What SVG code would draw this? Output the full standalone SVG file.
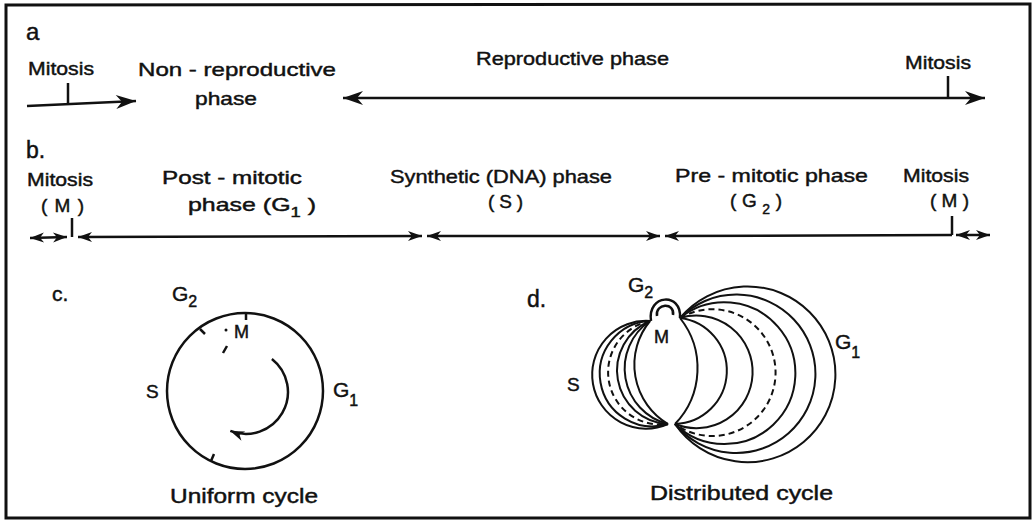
<svg xmlns="http://www.w3.org/2000/svg" width="1036" height="529" viewBox="0 0 1036 529">
<style>
text { font-family: "Liberation Sans", Arial, sans-serif; fill: #111; stroke: #111; stroke-width: 0.45; }
.t { font-size: 19px; }
.s { font-size: 14px; }
.ln { stroke: #111; stroke-width: 2.5; fill: none; }
.arc { stroke: #111; stroke-width: 2; fill: none; }
.dash { stroke-dasharray: 6 4; }
</style>
<defs>
<marker id="big" viewBox="-22 -8 23 16" refX="0" refY="0" markerWidth="23" markerHeight="16" markerUnits="userSpaceOnUse" orient="auto-start-reverse">
<path d="M0,0 L-20,-7 L-14,0 L-20,7 Z" fill="#111"/>
</marker>
<marker id="slim" viewBox="-16 -6 17 12" refX="0" refY="0" markerWidth="17" markerHeight="12" markerUnits="userSpaceOnUse" orient="auto-start-reverse">
<path d="M0,0 L-14,-5 L-10,0 L-14,5 Z" fill="#111"/>
</marker>
</defs>
<rect width="1036" height="529" fill="#fff"/>
<g id="frame"><path d="M6,518 L6,5 L1030,4 L1030,518 Z" fill="none" stroke="#111" stroke-width="3"/></g>

<g id="panel-a">
<text x="26" y="40" font-size="24">a</text>
<text class="t" x="28" y="75" textLength="66" lengthAdjust="spacingAndGlyphs" font-size="17">Mitosis</text>
<text class="t" x="138" y="76" textLength="198" lengthAdjust="spacingAndGlyphs">Non - reproductive</text>
<text class="t" x="195" y="105" textLength="62" lengthAdjust="spacingAndGlyphs">phase</text>
<text class="t" x="476" y="65" textLength="193" lengthAdjust="spacingAndGlyphs">Reproductive phase</text>
<text class="t" x="905" y="69" textLength="66" lengthAdjust="spacingAndGlyphs">Mitosis</text>
</g>

<g id="panel-b">
<text x="26" y="158" font-size="23">b.</text>
<text class="t" x="27" y="186" textLength="66" lengthAdjust="spacingAndGlyphs">Mitosis</text>
<text class="t" x="41" y="212" textLength="43" lengthAdjust="spacing">(M)</text>
<text class="t" x="162" y="184" textLength="140" lengthAdjust="spacingAndGlyphs">Post - mitotic</text>
<text class="t" x="188" y="211" textLength="128" lengthAdjust="spacingAndGlyphs">phase (G<tspan class="s" dy="6">1</tspan><tspan dy="-6"> )</tspan></text>
<text class="t" x="390" y="183" textLength="222" lengthAdjust="spacingAndGlyphs">Synthetic (DNA) phase</text>
<text class="t" x="488" y="208" textLength="35" lengthAdjust="spacing">(S)</text>
<text class="t" x="675" y="182" textLength="193" lengthAdjust="spacingAndGlyphs">Pre - mitotic phase</text>
<text class="t" x="730" y="207" textLength="52" lengthAdjust="spacing">(G<tspan class="s" dy="7">2</tspan><tspan dy="-7">)</tspan></text>
<text class="t" x="903" y="182" textLength="66" lengthAdjust="spacingAndGlyphs">Mitosis</text>
<text class="t" x="930" y="207" textLength="39" lengthAdjust="spacing">(M)</text>
</g>

<g id="connectors">
<path class="ln" d="M27,106 L136,101" marker-end="url(#big)"/>
<path class="ln" d="M68,83 L68,103"/>
<path class="ln" d="M343,98 L985,98" marker-start="url(#big)" marker-end="url(#big)"/>
<path class="ln" d="M948,76 L948,98"/>
<path class="ln" d="M30,238 L67,237" marker-start="url(#slim)" marker-end="url(#slim)"/>
<path class="ln" d="M72,218 L72,237"/>
<path class="ln" d="M78,237 L422,236" marker-start="url(#slim)" marker-end="url(#slim)"/>
<path class="ln" d="M427,236 L660,236" marker-start="url(#slim)" marker-end="url(#slim)"/>
<path class="ln" d="M665,236 L952,235" marker-start="url(#slim)"/>
<path class="ln" d="M952,216 L952,235"/>
<path class="ln" d="M956,235 L990,235" marker-start="url(#slim)" marker-end="url(#slim)"/>
</g>

<g id="panel-c">
<text x="52" y="301" font-size="21">c.</text>
<text x="172" y="301" font-size="21">G<tspan font-size="16" dy="6">2</tspan></text>
<text x="146" y="398" font-size="19">S</text>
<text x="333" y="397" font-size="21">G<tspan font-size="16" dy="9">1</tspan></text>
<text x="234" y="338" font-size="18">M</text>
<circle class="ln" cx="245" cy="391" r="78"/>
<path class="ln" d="M246,313 L246,320 M200,329 L205,334 M211,461 L214,454 M223,353 L227,346"/>
<circle cx="226" cy="330" r="1.5" fill="#111"/>
<path class="ln" d="M271.9,358.9 A42,42 0 0 1 230.3,430.9" marker-end="url(#slim)"/>
<text x="170" y="503" font-size="20" textLength="148" lengthAdjust="spacingAndGlyphs">Uniform cycle</text>
</g>

<g id="panel-d">
<text x="527" y="307" font-size="23">d.</text>
<text x="628" y="292" font-size="21">G<tspan font-size="16" dy="6">2</tspan></text>
<text x="654" y="343" font-size="18">M</text>
<text x="567" y="391" font-size="19">S</text>
<text x="835" y="349" font-size="21">G<tspan font-size="16" dy="9">1</tspan></text>
<path class="ln" d="M651,321 C647,294 682,292 680,318 M657,316 C655,303 675,302 673,315"/>
<path class="arc" stroke-width="3" d="M650,321 A53.9,53.9 0 1 0 668,424"/>
<path class="arc" d="M650,321 A52.7,52.7 0 1 0 668,424"/>
<path class="arc dash" d="M650,321 A52.3,52.3 0 0 0 668,424"/>
<path class="arc" d="M650,321 A53.6,53.6 0 0 0 668,424"/>
<path class="arc" d="M650,321 A57.2,57.2 0 0 0 668,424"/>
<path class="arc" d="M650,321 A69,69 0 0 0 668,424"/>
<path class="arc" d="M680,318 A80.5,80.5 0 0 1 675,424"/>
<path class="arc" d="M680,318 A53.2,53.2 0 0 1 675,424"/>
<path class="arc" d="M680,318 A56.3,56.3 0 1 1 675,424"/>
<path class="arc dash" d="M680,318 A63.4,63.4 0 1 1 675,424"/>
<path class="arc" d="M680,318 A70.9,70.9 0 1 1 675,424"/>
<path class="arc" d="M680,318 A79.2,79.2 0 1 1 675,424"/>
<path class="arc" d="M680,318 A87.9,87.9 0 1 1 675,424"/>
<text x="650" y="500" font-size="20" textLength="183" lengthAdjust="spacingAndGlyphs">Distributed cycle</text>
</g>
</svg>
